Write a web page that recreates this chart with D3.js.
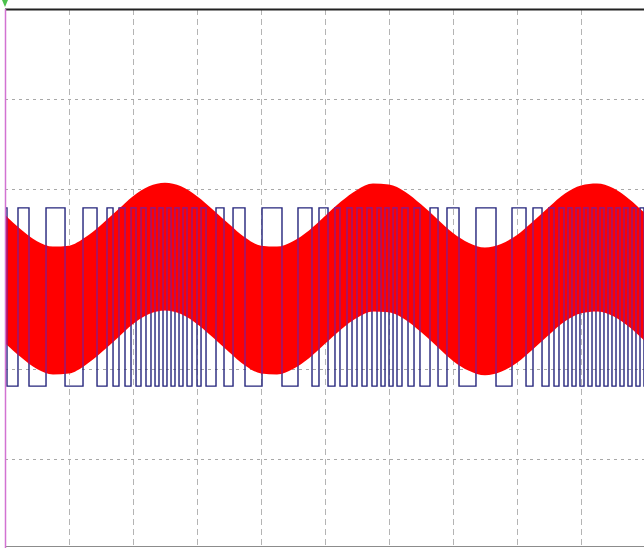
<!DOCTYPE html>
<meta charset="utf-8">
<title>Scope</title>
<style>
  body { margin: 0; background: #fff; }
</style>

<!-- Load d3.js -->
<script src="https://d3js.org/d3.v7.min.js"></script>

<div id="my_dataviz"></div>

<script>

// time samples of the slow modulating signal (divisions)
var msgTime = [0, 0.25, 0.5, 0.75, 1, 1.25, 1.5, 1.75, 2, 2.25, 2.5, 2.75, 3, 3.25, 3.5, 3.75,
               4, 4.25, 4.5, 4.75, 5, 5.25, 5.5, 5.75, 6, 6.25, 6.5, 6.75, 7, 7.25, 7.5, 7.75,
               8, 8.25, 8.5, 8.75, 9, 9.25, 9.5, 9.75, 10];
// centre of the red band (divisions)
var msgLevel = [0, -0.16, -0.29, -0.35, -0.34, -0.25, -0.11, 0.05, 0.21, 0.32, 0.36, 0.32, 0.21, 0.06,
                -0.10, -0.25, -0.34, -0.35, -0.29, -0.17, -0.01, 0.15, 0.28, 0.35, 0.34, 0.26, 0.12,
                -0.04, -0.20, -0.31, -0.36, -0.32, -0.22, -0.07, 0.09, 0.24, 0.33, 0.35, 0.30, 0.18, 0.02];
// half height of the red carrier
var carrierAmp = 0.71;

// blue square wave: levels and the times where it flips (starts high)
var squareHigh = 0.79, squareLow = -1.19;
var squareEdges = [0.031, 0.203, 0.375, 0.641, 0.938, 1.219, 1.438, 1.594, 1.688, 1.781, 1.875, 1.969,
                   2.047, 2.125, 2.203, 2.281, 2.344, 2.406, 2.469, 2.531, 2.594, 2.656, 2.719, 2.781,
                   2.844, 2.922, 3.000, 3.063, 3.141, 3.297, 3.422, 3.563, 3.750, 4.016, 4.328, 4.578,
                   4.797, 4.906, 5.047, 5.156, 5.234, 5.344, 5.422, 5.500, 5.578, 5.656, 5.734, 5.813,
                   5.875, 5.938, 6.000, 6.063, 6.125, 6.203, 6.297, 6.391, 6.484, 6.641, 6.766, 6.906,
                   7.094, 7.359, 7.672, 7.922, 8.141, 8.250, 8.391, 8.500, 8.578, 8.656, 8.734, 8.797,
                   8.859, 8.922, 8.984, 9.047, 9.109, 9.172, 9.234, 9.297, 9.359, 9.422, 9.484, 9.547,
                   9.609, 9.672, 9.734, 9.797, 9.859, 9.922, 9.984];

// grid divisions
var xTicks = [1, 2, 3, 4, 5, 6, 7, 8, 9];
var yTicks = [-2, -1, 0, 1, 2];

var W = 644, H = 548;

var svg = d3.select("#my_dataviz")
  .append("svg")
    .attr("width", W)
    .attr("height", H);

var x = d3.scaleLinear().domain([0, 10]).range([5, 645]);
var y = d3.scaleLinear().domain([-3, 3]).range([549, 9]);

// grid
svg.append("g").selectAll("line")
  .data(xTicks).enter().append("line")
    .attr("x1", function(d) { return x(d) + 0.5; })
    .attr("x2", function(d) { return x(d) + 0.5; })
    .attr("y1", y(3)).attr("y2", H - 1)
    .attr("stroke", "#b4b4b4")
    .attr("stroke-dasharray", "6,4");

svg.append("g").selectAll("line")
  .data(yTicks).enter().append("line")
    .attr("x1", x(0)).attr("x2", W)
    .attr("y1", function(d) { return y(d) + 0.5; })
    .attr("y2", function(d) { return y(d) + 0.5; })
    .attr("stroke", "#a8a8a8")
    .attr("stroke-dasharray", "3,4");

// square wave points
var sq = [{t: 0, v: squareHigh}];
var state = true;
squareEdges.forEach(function(t) {
  state = !state;
  sq.push({t: t, v: state ? squareHigh : squareLow});
});
sq.push({t: 10, v: state ? squareHigh : squareLow});

var sqLine = d3.line()
  .x(function(d) { return x(d.t); })
  .y(function(d) { return y(d.v); })
  .curve(d3.curveStepAfter);

var msg = msgTime.map(function(t, i) { return {t: t, v: msgLevel[i]}; });

var band = d3.area()
  .x(function(d) { return x(d.t); })
  .y0(function(d) { return y(d.v - carrierAmp); })
  .y1(function(d) { return y(d.v + carrierAmp); })
  .curve(d3.curveMonotoneX);

svg.append("clipPath").attr("id", "plot")
  .append("rect").attr("x", x(0)).attr("y", y(3)).attr("width", W - x(0)).attr("height", H - y(3));

svg.append("clipPath").attr("id", "bandclip")
  .append("path").attr("d", band(msg));

var plot = svg.append("g").attr("clip-path", "url(#plot)");

// blue square wave (under)
plot.append("path")
  .attr("d", sqLine(sq))
  .attr("fill", "none")
  .attr("stroke", "#24247c")
  .attr("stroke-width", 1.4);

// red carrier band
plot.append("path")
  .attr("d", band(msg))
  .attr("fill", "#ff0000");

// square wave seen through the red band
plot.append("g").attr("clip-path", "url(#bandclip)")
  .append("path")
    .attr("d", sqLine(sq))
    .attr("fill", "none")
    .attr("stroke", "#8a1a86")
    .attr("stroke-opacity", 0.85)
    .attr("stroke-width", 1.6);

// frame
svg.append("line")
  .attr("x1", x(0)).attr("x2", W)
  .attr("y1", y(3) + 0.5).attr("y2", y(3) + 0.5)
  .attr("stroke", "#222").attr("stroke-width", 2);
svg.append("line")
  .attr("x1", x(0)).attr("x2", W)
  .attr("y1", H - 1.5).attr("y2", H - 1.5)
  .attr("stroke", "#8c8c8c").attr("stroke-width", 1);
svg.append("line")
  .attr("x1", x(0) + 0.5).attr("x2", x(0) + 0.5)
  .attr("y1", y(3)).attr("y2", H)
  .attr("stroke", "#d273d2").attr("stroke-width", 1.5);

// trigger marker
svg.append("path")
  .attr("d", "M" + (x(0) - 3) + ",0 L" + (x(0) + 3) + ",0 L" + x(0) + ",7 Z")
  .attr("fill", "#4cc04c");

</script>
